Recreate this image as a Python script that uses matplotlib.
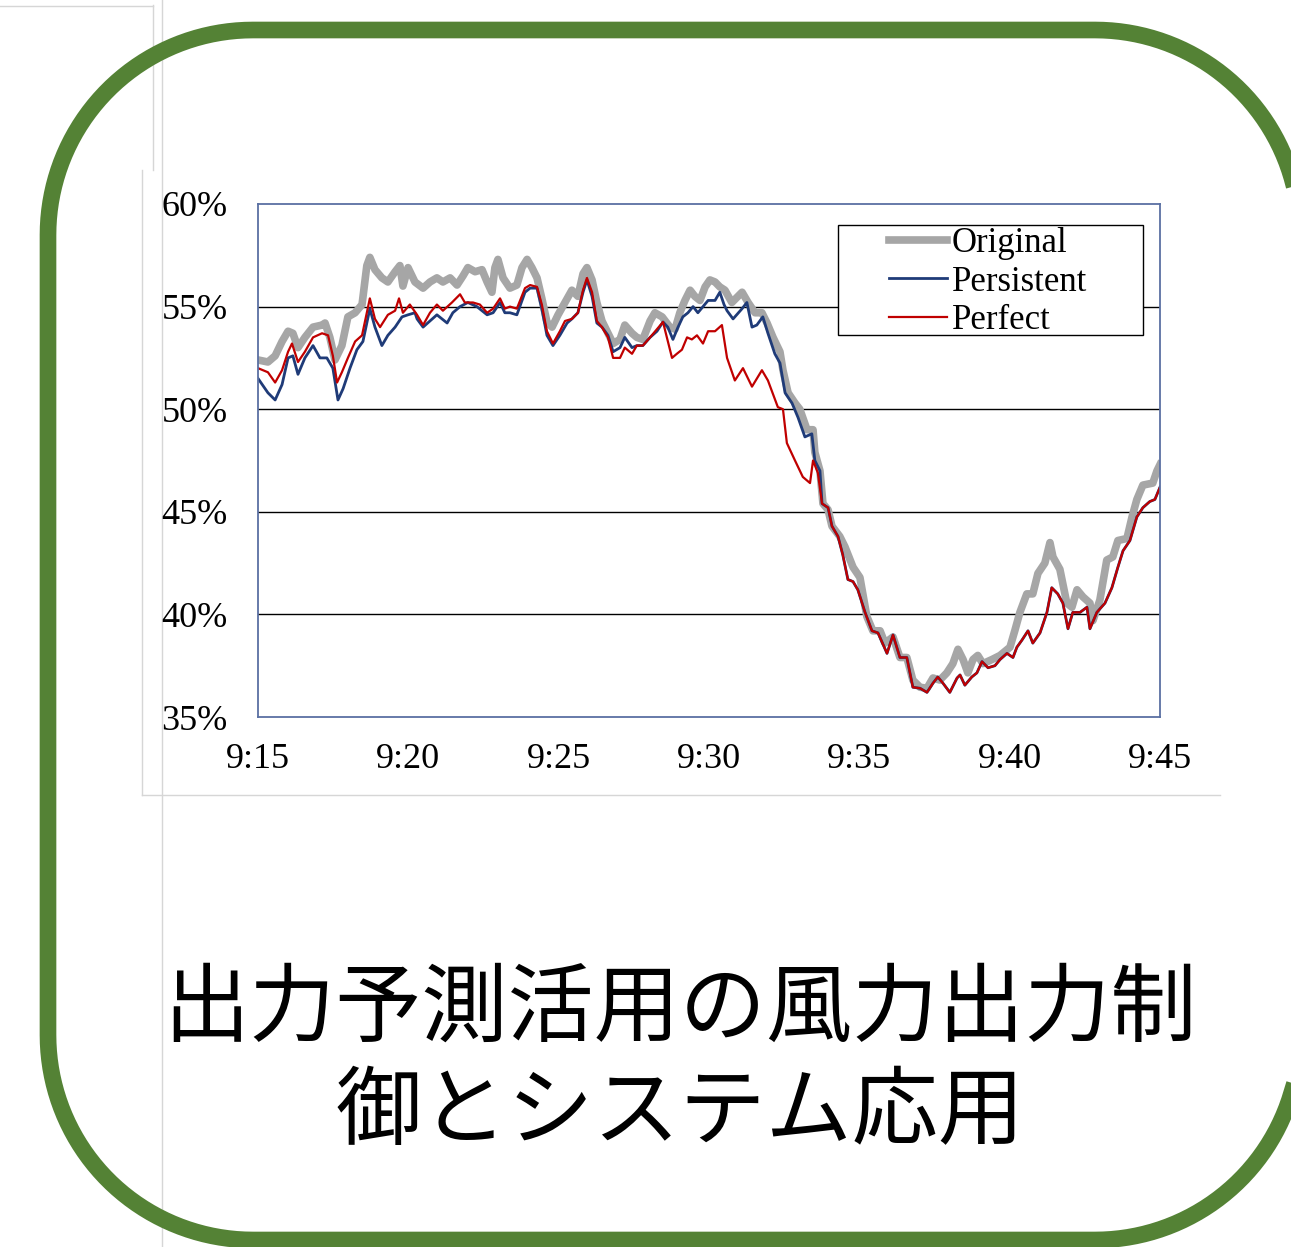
import numpy as np
import matplotlib
matplotlib.use("Agg")
import matplotlib.pyplot as plt
from matplotlib.patches import Rectangle
from matplotlib.lines import Line2D

# minutes after 9:15 / share in percent
orig_t = [0.0, 0.33, 0.57, 0.8, 1.0, 1.16, 1.33, 1.56, 1.83, 2.13, 2.23, 2.39, 2.56, 2.79, 2.99,
          3.23, 3.46, 3.62, 3.72, 3.89, 4.12, 4.32, 4.56, 4.72, 4.82, 4.99, 5.22, 5.49, 5.72,
          5.95, 6.15, 6.39, 6.62, 6.82, 6.98, 7.22, 7.45, 7.62, 7.78, 7.88, 7.98, 8.15, 8.38,
          8.61, 8.78, 8.95, 9.11, 9.28, 9.44, 9.61, 9.78, 9.98, 10.21, 10.44, 10.64, 10.81,
          10.94, 11.11, 11.27, 11.44, 11.64, 11.81, 12.04, 12.2, 12.44, 12.6, 12.8, 13.04,
          13.2, 13.44, 13.7, 13.87, 14.03, 14.2, 14.37, 14.53, 14.7, 14.87, 15.03, 15.2,
          15.36, 15.53, 15.76, 16.1, 16.3, 16.53, 16.76, 16.93, 17.13, 17.36, 17.46, 17.63,
          17.86, 18.02, 18.26, 18.46, 18.52, 18.69, 18.79, 18.96, 19.09, 19.35, 19.52, 19.79,
          20.02, 20.25, 20.45, 20.69, 20.85, 21.12, 21.35, 21.58, 21.78, 22.02, 22.25, 22.45,
          22.68, 22.91, 23.11, 23.28, 23.45, 23.61, 23.78, 23.94, 24.11, 24.41, 24.68, 25.01,
          25.17, 25.34, 25.57, 25.77, 25.94, 26.17, 26.34, 26.44, 26.67, 26.9, 27.07, 27.24,
          27.44, 27.67, 27.77, 28.0, 28.23, 28.43, 28.6, 28.9, 29.07, 29.23, 29.43, 29.76,
          29.9, 30.0]
orig_v = [52.4, 52.3, 52.6, 53.3, 53.8, 53.7, 53.0, 53.5, 54.0, 54.1, 54.2, 53.5, 52.4, 53.1, 54.5,
          54.7, 55.1, 57.0, 57.4, 56.8, 56.4, 56.2, 56.7, 57.0, 56.0, 56.9, 56.2, 55.9, 56.2,
          56.4, 56.2, 56.4, 56.05, 56.5, 56.9, 56.7, 56.8, 56.2, 55.7, 56.9, 57.3, 56.4, 55.9,
          56.05, 56.9, 57.3, 56.9, 56.4, 55.4, 54.25, 54.0, 54.6, 55.2, 55.8, 55.5, 56.6,
          56.9, 56.3, 55.2, 54.3, 53.7, 53.2, 53.4, 54.1, 53.7, 53.5, 53.4, 54.3,
          54.7, 54.5, 54.0, 53.9, 54.7, 55.3, 55.8, 55.5, 55.3, 55.96, 56.3, 56.2,
          55.96, 55.8, 55.2, 55.7, 55.2, 54.7, 54.7, 54.2, 53.5, 52.8, 51.9, 50.8,
          50.3, 50.0, 49.0, 49.0, 47.9, 47.0, 45.4, 45.1, 44.3, 43.8, 43.3, 42.3,
          41.8, 39.9, 39.2, 39.2, 38.6, 38.9, 37.9, 37.9, 36.8, 36.45, 36.4, 36.9,
          36.8, 37.15, 37.6, 38.3, 37.8, 37.15, 37.8, 38.0, 37.6, 37.8, 38.0, 38.4,
          39.2, 40.1, 41.0, 41.0, 42.0, 42.5, 43.5, 42.8, 42.2, 40.55, 40.35, 41.2,
          40.85, 40.55, 39.7, 40.7, 42.65, 42.8, 43.6, 43.7, 44.75, 45.6, 46.3, 46.4,
          47.0, 47.3]

perf_t = [0.0, 0.33, 0.57, 0.8, 1.0, 1.13, 1.33, 1.56, 1.83, 2.13, 2.33, 2.49, 2.63, 2.79, 2.99,
          3.23, 3.46, 3.72, 3.89, 4.06, 4.32, 4.56, 4.69, 4.82, 5.05, 5.29, 5.49, 5.72, 5.95,
          6.15, 6.45, 6.72, 6.88, 7.15, 7.38, 7.62, 7.82, 8.05, 8.21, 8.38, 8.61, 8.88, 9.05,
          9.28, 9.44, 9.61, 9.81, 10.04, 10.21, 10.44, 10.64, 10.81, 10.94, 11.11, 11.27,
          11.44, 11.64, 11.81, 12.04, 12.2, 12.44, 12.6, 12.8, 13.04, 13.27, 13.47, 13.6,
          13.77, 13.93, 14.1, 14.27, 14.43, 14.6, 14.8, 14.97, 15.2, 15.43, 15.6, 15.86,
          16.13, 16.43, 16.76, 16.96, 17.29, 17.46, 17.59, 17.86, 18.12, 18.36, 18.46, 18.62,
          18.76, 18.96, 19.09, 19.29, 19.45, 19.62, 19.79, 19.95, 20.19, 20.42, 20.62, 20.92,
          21.12, 21.35, 21.58, 21.78, 22.02, 22.25, 22.45, 22.61, 22.78, 23.01, 23.25, 23.35,
          23.51, 23.74, 23.91, 24.08, 24.28, 24.51, 24.68, 24.91, 25.11, 25.24, 25.41, 25.61,
          25.77, 26.01, 26.24, 26.4, 26.6, 26.77, 26.94, 27.1, 27.34, 27.57, 27.67, 27.9,
          28.17, 28.4, 28.6, 28.77, 29.0, 29.23, 29.43, 29.66, 29.83, 30.0]
perf_v = [52.0, 51.8, 51.3, 51.9, 52.8, 53.2, 52.3, 52.8, 53.5, 53.7, 53.6, 52.6, 51.3, 51.8, 52.5,
          53.3, 53.6, 55.4, 54.4, 54.0, 54.6, 54.8, 55.4, 54.7, 55.1, 54.6, 54.1, 54.7, 55.1,
          54.8, 55.2, 55.6, 55.2, 55.2, 55.1, 54.7, 54.9, 55.4, 54.9, 55.0, 54.9, 55.9, 56.05,
          55.96, 55.1, 53.8, 53.2, 53.8, 54.3, 54.4, 54.7, 55.8, 56.4, 55.7, 54.3,
          54.0, 53.5, 52.5, 52.5, 53.0, 52.7, 53.1, 53.1, 53.5, 53.9, 54.25, 53.5,
          52.5, 52.7, 52.9, 53.5, 53.4, 53.6, 53.2, 53.8, 53.8, 54.1, 52.5, 51.4,
          52.0, 51.1, 51.9, 51.4, 50.1, 50.0, 48.35, 47.5, 46.7, 46.4, 47.5, 46.9,
          45.4, 45.2, 44.3, 43.8, 42.9, 41.7, 41.6, 41.2, 40.1, 39.2, 39.1, 38.1,
          39.0, 37.9, 37.9, 36.45, 36.4, 36.2, 36.65, 36.95, 36.65, 36.2, 36.9, 37.05,
          36.55, 36.95, 37.15, 37.7, 37.4, 37.5, 37.8, 38.1, 37.9, 38.4, 38.75, 39.2,
          38.6, 39.1, 40.1, 41.3, 41.0, 40.55, 39.3, 40.1, 40.1, 40.35, 39.3, 40.1,
          40.55, 41.3, 42.3, 43.1, 43.6, 44.75, 45.2, 45.5, 45.6, 46.2]

# Persistent: read up to ~9:33.7, after that it lies under Perfect
pers_t = [0.0, 0.33, 0.57, 0.8, 1.0, 1.16, 1.33, 1.56, 1.83, 2.06, 2.29, 2.49, 2.66, 2.83, 3.06,
          3.29, 3.49, 3.72, 3.89, 4.12, 4.32, 4.56, 4.79, 4.99, 5.22, 5.29, 5.49, 5.72, 5.95,
          6.29, 6.48, 6.72, 6.98, 7.28, 7.62, 7.82, 8.05, 8.21, 8.38, 8.61, 8.88, 9.05, 9.28,
          9.44, 9.61, 9.81, 10.04, 10.28, 10.44, 10.64, 10.81, 10.94, 11.11, 11.27, 11.44,
          11.64, 11.81, 12.04, 12.2, 12.44, 12.6, 12.8, 13.04, 13.27, 13.47, 13.63, 13.8,
          13.97, 14.13, 14.3, 14.47, 14.63, 14.8, 14.97, 15.2, 15.36, 15.5, 15.6, 15.8,
          16.1, 16.26, 16.43, 16.59, 16.79, 16.96, 17.19, 17.36, 17.53, 17.76, 17.96, 18.19,
          18.42, 18.52, 18.69]
pers_v = [51.5, 50.8, 50.45, 51.2, 52.5, 52.6, 51.7, 52.5, 53.1, 52.5, 52.5, 52.0, 50.45, 51.0, 52.0,
          52.9, 53.3, 54.9, 54.0, 53.1, 53.6, 54.0, 54.5, 54.6, 54.7, 54.4, 54.0, 54.3, 54.6,
          54.2, 54.7, 55.0, 55.2, 55.0, 54.6, 54.7, 55.2, 54.7, 54.7, 54.6, 55.7, 55.9, 55.9,
          54.9, 53.6, 53.1, 53.6, 54.2, 54.4, 54.7, 55.7, 56.3, 55.5, 54.2, 54.0,
          53.6, 52.8, 53.0, 53.5, 53.0, 53.1, 53.1, 53.5, 53.8, 54.25, 54.0, 53.4,
          54.0, 54.5, 54.7, 55.0, 54.7, 55.0, 55.3, 55.3, 55.7, 55.1, 54.8, 54.4,
          54.9, 55.2, 54.0, 54.1, 54.5, 53.7, 52.7, 52.25, 50.8, 50.3, 49.6, 48.65,
          48.8, 47.5, 47.0]

x_ticks = [0, 5, 10, 15, 20, 25, 30]
x_labels = ["9:15", "9:20", "9:25", "9:30", "9:35", "9:40", "9:45"]
y_ticks = [35, 40, 45, 50, 55, 60]
caption = ["出力予測活用の風力出力制", "御とシステム応用"]

W, H = 1291, 1247
fig = plt.figure(figsize=(W / 100, H / 100), dpi=100)

# background layer in pixel coordinates (y measured from the bottom)
bg = fig.add_axes([0, 0, 1, 1])
bg.set_xlim(0, W)
bg.set_ylim(0, H)
bg.axis("off")
for xs, ys in [([153, 153], [5, 170]), ([0, 153], [6, 6]), ([162, 162], [0, H]),
               ([142, 142], [170, 795]), ([142, 1220], [795, 795])]:
    bg.add_line(Line2D(xs, [H - y for y in ys], color="#d6d6d6", lw=1))
bg.add_patch(Rectangle((143, H - 794), 1076, 623, facecolor="white", edgecolor="none"))

# green rounded frame as a plain polyline (curved paths clip badly at the figure edge)
x0, x1, y0, y1, r = 48, 1300, H - 1240, H - 30, 205
a = np.linspace(0, np.pi / 2, 40)
bx = np.concatenate([x1 - r + r * np.cos(a), x0 + r - r * np.sin(a),
                     x0 + r - r * np.cos(a), x1 - r + r * np.sin(a)])
by = np.concatenate([y1 - r + r * np.sin(a), y1 - r + r * np.cos(a),
                     y0 + r - r * np.sin(a), y0 + r - r * np.cos(a)])
bg.plot(np.append(bx, bx[0]), np.append(by, by[0]), color="#548235", lw=12,
        solid_joinstyle="round", clip_on=False)

serif = "Liberation Serif"
ax = fig.add_axes([258 / W, 1 - 717 / H, 902 / W, 513 / H])
ax.plot(orig_t, orig_v, color="#a6a6a6", lw=5.5, solid_joinstyle="round", label="Original")
pt = np.concatenate([pers_t, [t for t in perf_t if t > pers_t[-1]]])
pv = np.concatenate([pers_v, [v for t, v in zip(perf_t, perf_v) if t > pers_t[-1]]])
ax.plot(pt, pv, color="#1f3b78", lw=2.0, label="Persistent")
ax.plot(perf_t, perf_v, color="#c00000", lw=1.6, label="Perfect")

ax.set_xlim(0, 30)
ax.set_ylim(35, 60)
for g in [40, 45, 50, 55]:
    ax.axhline(g, color="black", lw=1.0, zorder=0)
ax.set_xticks(x_ticks)
ax.set_xticklabels(x_labels, fontfamily=serif, fontsize=26)
ax.set_yticks(y_ticks)
ax.set_yticklabels([f"{v}%" for v in y_ticks], fontfamily=serif, fontsize=26)
ax.tick_params(axis="both", length=0)
ax.tick_params(axis="y", pad=22)
ax.tick_params(axis="x", pad=19)
for s in ax.spines.values():
    s.set_color("#5a70a3")
    s.set_linewidth(1.3)

# legend box drawn separately, entries placed inside
ax.add_patch(Rectangle((0.643, 0.745), 0.338, 0.214, transform=ax.transAxes,
                       facecolor="white", edgecolor="black", lw=1.0, zorder=4))
leg = ax.legend(loc="upper left", bbox_to_anchor=(0.700, 0.955), frameon=False,
                prop={"family": serif, "size": 25}, handlelength=1.65, handletextpad=0.15,
                labelspacing=0.16, borderpad=0, borderaxespad=0)
leg.set_zorder(5)

fig.text(680 / W, 1 - 1010 / H, caption[0], ha="center", va="center", fontsize=62,
         family=["Noto Sans CJK JP", "DejaVu Sans"])
fig.text(680 / W, 1 - 1114 / H, caption[1], ha="center", va="center", fontsize=62,
         family=["Noto Sans CJK JP", "DejaVu Sans"])

fig.savefig("out.png", dpi=100)
